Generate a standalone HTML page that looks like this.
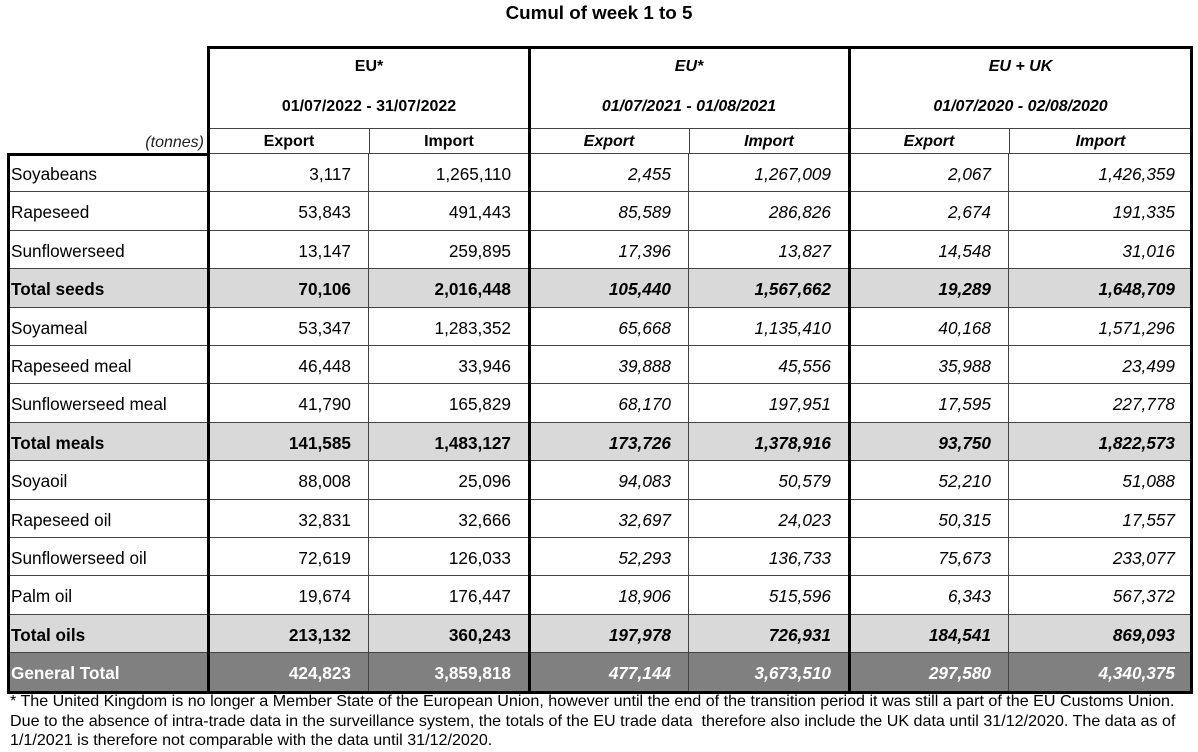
<!DOCTYPE html>
<html><head><meta charset="utf-8"><style>
*{margin:0;padding:0;box-sizing:border-box}
body{width:1198px;height:752px;background:#fff;font-family:"Liberation Sans",Arial,sans-serif;color:#000;position:relative;overflow:hidden}
.a{position:absolute}
.title{left:0;width:1198px;top:2px;text-align:center;font-weight:bold;font-size:18.8px}
.h{position:absolute;font-size:16px;font-weight:bold;text-align:center}
.row{position:absolute;left:8px;width:1184px;height:38.4px;border-bottom:1px solid #444;font-size:17.2px}
.row div{position:absolute;top:0;height:100%;line-height:40px;border-right:1px solid #444}
.row .l{left:0;width:201px;padding-left:3px}
.row .n{text-align:right;padding-right:17px}
.c1{left:201px;width:160px}.c2{left:361px;width:160px}.c3{left:521px;width:160px}
.c4{left:681px;width:160px}.c5{left:841px;width:160px}.c6{left:1001px;width:183px;border-right:none!important}
.c3,.c4,.c5,.c6{font-style:italic}
.t{background:#d9d9d9;font-weight:bold}
.g{background:#808080;color:#fff;font-weight:bold}
.v{position:absolute;background:#000}
.foot{left:10px;top:692px;font-size:16.1px;line-height:19.5px;width:1195px;white-space:nowrap}
</style></head><body>
<div class="a title">Cumul of week 1 to 5</div>

<div class="h" style="left:209px;width:320px;top:58px">EU*</div>
<div class="h" style="left:209px;width:320px;top:98px">01/07/2022 - 31/07/2022</div>
<div class="h" style="left:529px;width:320px;top:58px;font-style:italic">EU*</div>
<div class="h" style="left:529px;width:320px;top:98px;font-style:italic">01/07/2021 - 01/08/2021</div>
<div class="h" style="left:849px;width:343px;top:58px;font-style:italic">EU + UK</div>
<div class="h" style="left:849px;width:343px;top:98px;font-style:italic">01/07/2020 - 02/08/2020</div>
<div class="h" style="left:209px;width:160px;top:133px">Export</div>
<div class="h" style="left:369px;width:160px;top:133px">Import</div>
<div class="h" style="left:529px;width:160px;top:133px;font-style:italic">Export</div>
<div class="h" style="left:689px;width:160px;top:133px;font-style:italic">Import</div>
<div class="h" style="left:849px;width:160px;top:133px;font-style:italic">Export</div>
<div class="h" style="left:1009px;width:183px;top:133px;font-style:italic">Import</div>
<div class="a" style="left:100px;width:104px;top:134px;text-align:right;font-style:italic;font-size:16px;color:#222">(tonnes)</div>
<div class="a" style="left:209px;top:128px;width:983px;height:1px;background:#444"></div>
<div class="a" style="left:369px;top:128px;width:1px;height:26px;background:#444"></div>
<div class="a" style="left:689px;top:128px;width:1px;height:26px;background:#444"></div>
<div class="a" style="left:1009px;top:128px;width:1px;height:26px;background:#444"></div>

<div class="row" style="top:154px"><div class="l">Soyabeans</div><div class="n c1">3,117</div><div class="n c2">1,265,110</div><div class="n c3">2,455</div><div class="n c4">1,267,009</div><div class="n c5">2,067</div><div class="n c6">1,426,359</div></div>
<div class="row" style="top:192.4px"><div class="l">Rapeseed</div><div class="n c1">53,843</div><div class="n c2">491,443</div><div class="n c3">85,589</div><div class="n c4">286,826</div><div class="n c5">2,674</div><div class="n c6">191,335</div></div>
<div class="row" style="top:230.8px"><div class="l">Sunflowerseed</div><div class="n c1">13,147</div><div class="n c2">259,895</div><div class="n c3">17,396</div><div class="n c4">13,827</div><div class="n c5">14,548</div><div class="n c6">31,016</div></div>
<div class="row t" style="top:269.2px"><div class="l">Total seeds</div><div class="n c1">70,106</div><div class="n c2">2,016,448</div><div class="n c3">105,440</div><div class="n c4">1,567,662</div><div class="n c5">19,289</div><div class="n c6">1,648,709</div></div>
<div class="row" style="top:307.6px"><div class="l">Soyameal</div><div class="n c1">53,347</div><div class="n c2">1,283,352</div><div class="n c3">65,668</div><div class="n c4">1,135,410</div><div class="n c5">40,168</div><div class="n c6">1,571,296</div></div>
<div class="row" style="top:346px"><div class="l">Rapeseed meal</div><div class="n c1">46,448</div><div class="n c2">33,946</div><div class="n c3">39,888</div><div class="n c4">45,556</div><div class="n c5">35,988</div><div class="n c6">23,499</div></div>
<div class="row" style="top:384.4px"><div class="l">Sunflowerseed meal</div><div class="n c1">41,790</div><div class="n c2">165,829</div><div class="n c3">68,170</div><div class="n c4">197,951</div><div class="n c5">17,595</div><div class="n c6">227,778</div></div>
<div class="row t" style="top:422.8px"><div class="l">Total meals</div><div class="n c1">141,585</div><div class="n c2">1,483,127</div><div class="n c3">173,726</div><div class="n c4">1,378,916</div><div class="n c5">93,750</div><div class="n c6">1,822,573</div></div>
<div class="row" style="top:461.2px"><div class="l">Soyaoil</div><div class="n c1">88,008</div><div class="n c2">25,096</div><div class="n c3">94,083</div><div class="n c4">50,579</div><div class="n c5">52,210</div><div class="n c6">51,088</div></div>
<div class="row" style="top:499.6px"><div class="l">Rapeseed oil</div><div class="n c1">32,831</div><div class="n c2">32,666</div><div class="n c3">32,697</div><div class="n c4">24,023</div><div class="n c5">50,315</div><div class="n c6">17,557</div></div>
<div class="row" style="top:538px"><div class="l">Sunflowerseed oil</div><div class="n c1">72,619</div><div class="n c2">126,033</div><div class="n c3">52,293</div><div class="n c4">136,733</div><div class="n c5">75,673</div><div class="n c6">233,077</div></div>
<div class="row" style="top:576.4px"><div class="l">Palm oil</div><div class="n c1">19,674</div><div class="n c2">176,447</div><div class="n c3">18,906</div><div class="n c4">515,596</div><div class="n c5">6,343</div><div class="n c6">567,372</div></div>
<div class="row t" style="top:614.8px"><div class="l">Total oils</div><div class="n c1">213,132</div><div class="n c2">360,243</div><div class="n c3">197,978</div><div class="n c4">726,931</div><div class="n c5">184,541</div><div class="n c6">869,093</div></div>
<div class="row g" style="top:653.2px;border-bottom:none"><div class="l">General Total</div><div class="n c1">424,823</div><div class="n c2">3,859,818</div><div class="n c3">477,144</div><div class="n c4">3,673,510</div><div class="n c5">297,580</div><div class="n c6">4,340,375</div></div>

<div class="a" style="left:209px;top:153px;width:983px;height:1px;background:#444"></div>
<div class="v" style="left:208px;top:46px;width:985px;height:3px"></div>
<div class="v" style="left:207px;top:46px;width:3px;height:647px"></div>
<div class="v" style="left:528px;top:46px;width:3px;height:647px"></div>
<div class="v" style="left:848px;top:46px;width:3px;height:647px"></div>
<div class="v" style="left:1190px;top:46px;width:3px;height:647px"></div>
<div class="v" style="left:7px;top:153px;width:3px;height:540px"></div>
<div class="v" style="left:7px;top:153px;width:203px;height:3px"></div>
<div class="v" style="left:7px;top:691px;width:1186px;height:3px"></div>

<div class="a foot">* The United Kingdom is no longer a Member State of the European Union, however until the end of the transition period it was still a part of the EU Customs Union.<br>Due to the absence of intra-trade data in the surveillance system, the totals of the EU trade data &nbsp;therefore also include the UK data until 31/12/2020. The data as of<br>1/1/2021 is therefore not comparable with the data until 31/12/2020.</div>
</body></html>
